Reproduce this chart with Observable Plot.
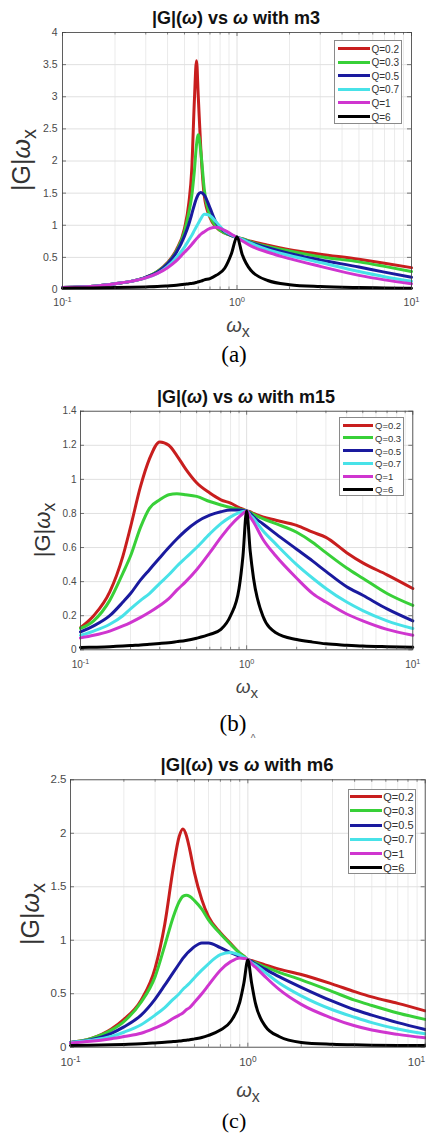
<!DOCTYPE html>
<html><head><meta charset="utf-8">
<script src="https://cdn.jsdelivr.net/npm/d3@7"></script>
<script src="https://cdn.jsdelivr.net/npm/@observablehq/plot@0.6"></script>
<style>
html,body{margin:0;padding:0;background:#fff;}
body{width:426px;height:1136px;position:relative;overflow:hidden;font-family:"Liberation Sans",Arial,sans-serif;}
svg{position:absolute;left:0;overflow:visible;}
</style></head><body>
<script>
// ---------- data ----------
const seriesNames = ["Q=0.2", "Q=0.3", "Q=0.5", "Q=0.7", "Q=1", "Q=6"];
const seriesColors = ["#c81e1e", "#38d038", "#1a1a9e", "#48e2e8", "#cf35cf", "#000000"];
const xMajorTicks = [0.1, 1, 10];
const xMinorTicks = [0.2, 0.3, 0.4, 0.5, 0.6, 0.7, 0.8, 0.9, 2, 3, 4, 5, 6, 7, 8, 9];
const panelTitles = ["m3", "m15", "m6"];
const panelCaptions = ["(a)", "(b)", "(c)"];

// panel (a): m3
const yTicksA = [0, 0.5, 1, 1.5, 2, 2.5, 3, 3.5, 4];
const omegaA = [0.1, 0.15, 0.2, 0.25, 0.3, 0.35, 0.4, 0.45, 0.5, 0.53, 0.55, 0.57, 0.586, 0.6, 0.62, 0.65, 0.7, 0.76, 0.85, 0.93, 1, 1.07, 1.2, 1.5, 2, 3, 5, 7, 10];
const aQ02 = [0.03, 0.05, 0.09, 0.13, 0.19, 0.28, 0.42, 0.62, 0.95, 1.35, 1.85, 2.95, 3.56, 3.0, 2.2, 1.45, 1.12, 0.97, 0.88, 0.84, 0.81, 0.79, 0.75, 0.69, 0.62, 0.55, 0.47, 0.41, 0.34];
const aQ03 = [0.03, 0.05, 0.09, 0.13, 0.19, 0.28, 0.41, 0.6, 0.9, 1.2, 1.45, 1.85, 2.25, 2.41, 2.15, 1.55, 1.15, 0.98, 0.88, 0.84, 0.81, 0.79, 0.74, 0.67, 0.6, 0.51, 0.43, 0.36, 0.28];
const aQ05 = [0.03, 0.05, 0.09, 0.13, 0.19, 0.27, 0.4, 0.58, 0.83, 1.02, 1.17, 1.32, 1.42, 1.48, 1.51, 1.47, 1.27, 1.04, 0.9, 0.84, 0.81, 0.78, 0.73, 0.65, 0.56, 0.46, 0.35, 0.27, 0.19];
const aQ07 = [0.03, 0.05, 0.09, 0.13, 0.18, 0.25, 0.36, 0.5, 0.66, 0.77, 0.84, 0.92, 0.98, 1.03, 1.1, 1.17, 1.15, 1.05, 0.91, 0.85, 0.81, 0.78, 0.72, 0.62, 0.53, 0.42, 0.28, 0.2, 0.13];
const aQ1 = [0.03, 0.05, 0.09, 0.13, 0.18, 0.25, 0.34, 0.45, 0.58, 0.65, 0.7, 0.75, 0.79, 0.82, 0.86, 0.9, 0.95, 0.97, 0.92, 0.86, 0.81, 0.76, 0.68, 0.58, 0.48, 0.36, 0.22, 0.15, 0.09];
const aQ6 = [0.02, 0.025, 0.03, 0.035, 0.04, 0.045, 0.055, 0.065, 0.08, 0.09, 0.095, 0.1, 0.11, 0.12, 0.13, 0.15, 0.17, 0.22, 0.33, 0.56, 0.82, 0.55, 0.3, 0.14, 0.075, 0.045, 0.03, 0.025, 0.02];

// panel (b): m15
const yTicksB = [0, 0.2, 0.4, 0.6, 0.8, 1, 1.2, 1.4];
const omegaB = [0.1, 0.12, 0.15, 0.18, 0.2, 0.23, 0.26, 0.3, 0.34, 0.38, 0.43, 0.5, 0.6, 0.7, 0.8, 0.9, 0.95, 1, 1.05, 1.1, 1.25, 1.5, 2, 2.5, 3, 4, 5, 7, 10];
const bQ02 = [0.13, 0.2, 0.34, 0.55, 0.72, 0.96, 1.12, 1.22, 1.2, 1.14, 1.06, 0.98, 0.92, 0.88, 0.86, 0.835, 0.825, 0.815, 0.81, 0.8, 0.78, 0.76, 0.73, 0.69, 0.66, 0.57, 0.51, 0.44, 0.36];
const bQ03 = [0.125, 0.17, 0.29, 0.45, 0.55, 0.72, 0.83, 0.88, 0.91, 0.915, 0.91, 0.9, 0.87, 0.85, 0.835, 0.825, 0.82, 0.815, 0.805, 0.795, 0.77, 0.74, 0.69, 0.63, 0.57, 0.48, 0.42, 0.33, 0.26];
const bQ05 = [0.105, 0.14, 0.2, 0.28, 0.33, 0.41, 0.47, 0.54, 0.6, 0.65, 0.7, 0.75, 0.79, 0.81, 0.82, 0.82, 0.818, 0.815, 0.8, 0.78, 0.74, 0.68, 0.59, 0.52, 0.46, 0.37, 0.32, 0.24, 0.17];
const bQ07 = [0.085, 0.11, 0.15, 0.2, 0.24, 0.29, 0.33, 0.39, 0.44, 0.49, 0.54, 0.6, 0.68, 0.74, 0.78, 0.805, 0.812, 0.815, 0.79, 0.77, 0.7, 0.62, 0.5, 0.42, 0.36, 0.28, 0.23, 0.17, 0.125];
const bQ1 = [0.07, 0.085, 0.11, 0.14, 0.16, 0.19, 0.22, 0.26, 0.3, 0.35, 0.4, 0.47, 0.57, 0.66, 0.73, 0.78, 0.8, 0.815, 0.78, 0.75, 0.65, 0.55, 0.42, 0.33, 0.28, 0.21, 0.17, 0.12, 0.085];
const bQ6 = [0.013, 0.015, 0.018, 0.022, 0.025, 0.028, 0.032, 0.037, 0.042, 0.048, 0.055, 0.068, 0.09, 0.12, 0.2, 0.36, 0.55, 0.815, 0.58, 0.42, 0.2, 0.1, 0.06, 0.045, 0.035, 0.027, 0.022, 0.018, 0.015];

// panel (c): m6
const yTicksC = [0, 0.5, 1, 1.5, 2, 2.5];
const omegaC = [0.1, 0.13, 0.17, 0.2, 0.25, 0.3, 0.34, 0.38, 0.41, 0.43, 0.45, 0.47, 0.5, 0.55, 0.6, 0.7, 0.8, 0.9, 0.95, 1, 1.05, 1.1, 1.25, 1.5, 2, 3, 4, 5, 7, 10];
const cQ02 = [0.045, 0.08, 0.17, 0.26, 0.44, 0.74, 1.15, 1.68, 1.97, 2.04, 1.98, 1.85, 1.63, 1.38, 1.22, 1.07, 0.97, 0.88, 0.85, 0.82, 0.81, 0.8, 0.77, 0.73, 0.68, 0.59, 0.52, 0.47, 0.41, 0.34];
const cQ03 = [0.045, 0.08, 0.16, 0.24, 0.42, 0.66, 0.95, 1.22, 1.36, 1.41, 1.42, 1.41, 1.37, 1.29, 1.19, 1.06, 0.96, 0.88, 0.85, 0.82, 0.8, 0.79, 0.75, 0.7, 0.63, 0.52, 0.44, 0.39, 0.32, 0.26];
const cQ05 = [0.045, 0.07, 0.13, 0.19, 0.3, 0.45, 0.58, 0.7, 0.78, 0.83, 0.87, 0.9, 0.94, 0.975, 0.975, 0.93, 0.885, 0.85, 0.835, 0.82, 0.8, 0.78, 0.73, 0.66, 0.56, 0.43, 0.35, 0.3, 0.23, 0.165];
const cQ07 = [0.045, 0.065, 0.1, 0.14, 0.21, 0.3, 0.37, 0.45, 0.5, 0.54, 0.57, 0.6, 0.65, 0.72, 0.78, 0.865, 0.885, 0.86, 0.84, 0.82, 0.79, 0.77, 0.7, 0.6, 0.48, 0.35, 0.28, 0.23, 0.17, 0.125];
const cQ1 = [0.04, 0.055, 0.08, 0.1, 0.13, 0.18, 0.22, 0.27, 0.3, 0.32, 0.35, 0.37, 0.42, 0.5, 0.58, 0.72, 0.8, 0.835, 0.83, 0.82, 0.78, 0.75, 0.66, 0.54, 0.4, 0.27, 0.2, 0.16, 0.12, 0.088];
const cQ6 = [0.015, 0.018, 0.022, 0.026, 0.032, 0.04, 0.046, 0.053, 0.058, 0.062, 0.066, 0.07, 0.078, 0.09, 0.11, 0.16, 0.24, 0.42, 0.6, 0.815, 0.6, 0.42, 0.2, 0.1, 0.045, 0.028, 0.022, 0.019, 0.017, 0.015];

// ---------- layout ----------
const panels = [
  {omega: omegaA, series: [aQ02, aQ03, aQ05, aQ07, aQ1, aQ6], yTicks: yTicksA,
   top: 0, height: 320, ml: 62, mr: 15, mt: 32, mb: 31, fs: 10.5, xPad: 9, yPad: 5,
   title: {cx: 236, cy: 18, fs: 18}, ylab: {cx: 21, cy: 160, fs: 25}, xlab: {cx: 238, cy: 325, fs: 20},
   cap: {cx: 234, cy: 355, fs: 23},
   leg: {x: 334, y: 40, w: 68, h: 84, y0: 48.5, gap: 13.6, lx: 338, len: 32, tx: 371.5, fs: 10}},
  {omega: omegaB, series: [bQ02, bQ03, bQ05, bQ07, bQ1, bQ6], yTicks: yTicksB,
   top: 370, height: 320, ml: 80, mr: 13.7, mt: 40.7, mb: 40.7, fs: 10, xPad: 11, yPad: 4,
   title: {cx: 246, cy: 397, fs: 18}, ylab: {cx: 43, cy: 530, fs: 22}, xlab: {cx: 247, cy: 687, fs: 19},
   cap: {cx: 233, cy: 724, fs: 23},
   leg: {x: 339, y: 417, w: 65, h: 79, y0: 425, gap: 12.8, lx: 343, len: 30, tx: 375, fs: 9.5}},
  {omega: omegaC, series: [cQ02, cQ03, cQ05, cQ07, cQ1, cQ6], yTicks: yTicksC,
   top: 750, height: 330, ml: 70, mr: 1.3, mt: 29.3, mb: 33.3, fs: 11.5, xPad: 11, yPad: 4,
   title: {cx: 247, cy: 765, fs: 18.5}, ylab: {cx: 30, cy: 914, fs: 25}, xlab: {cx: 248, cy: 1090, fs: 20},
   cap: {cx: 234, cy: 1121, fs: 22},
   leg: {x: 347.7, y: 789, w: 68.3, h: 85.3, y0: 796.7, gap: 14.2, lx: 350, len: 31.7, tx: 383.3, fs: 11}}
];

function rows(omega, seriesArrays) {
  const out = [];
  seriesArrays.forEach((vals, i) => vals.forEach((v, j) => out.push({w: omega[j], v, s: seriesNames[i]})));
  return out;
}

function addDiv(html, css) {
  const d = document.createElement("div");
  d.innerHTML = html;
  d.style.cssText = "position:absolute;white-space:nowrap;line-height:1;" + css;
  document.body.appendChild(d);
  return d;
}

const sub = () => `<span style="font-size:0.8em;position:relative;top:0.3em;">x</span>`;

panels.forEach((p, k) => {
  const plotH = p.height - p.mt - p.mb;
  const plotW = 426 - p.ml - p.mr;
  const axisColor = "#404040";
  const svg = Plot.plot({
    width: 426, height: p.height,
    marginLeft: p.ml, marginRight: p.mr, marginTop: p.mt, marginBottom: p.mb,
    style: {fontFamily: '"Liberation Sans", Arial, sans-serif', fontSize: p.fs + "px", color: "#4a4a4a", background: "transparent", overflow: "visible"},
    x: {type: "log", domain: [0.1, 10]},
    y: {domain: [p.yTicks[0], p.yTicks[p.yTicks.length - 1]]},
    color: {domain: seriesNames, range: seriesColors},
    marks: [
      Plot.gridX(xMinorTicks, {stroke: "#ebebeb", strokeOpacity: 1}),
      Plot.gridX(xMajorTicks, {stroke: "#e0e0e0", strokeOpacity: 1}),
      Plot.gridY(p.yTicks, {stroke: "#e0e0e0", strokeOpacity: 1}),
      Plot.line(rows(p.omega, p.series), {x: "w", y: "v", stroke: "s", z: "s", curve: "monotone-x", strokeWidth: 3, strokeLinejoin: "round"}),
      Plot.frame({stroke: axisColor, strokeWidth: 0.8}),
      Plot.tickX(xMajorTicks, {x: d => d, insetTop: plotH - 4, stroke: axisColor, strokeWidth: 0.7}),
      Plot.tickX(xMajorTicks, {x: d => d, insetBottom: plotH - 4, stroke: axisColor, strokeWidth: 0.7}),
      Plot.tickX(xMinorTicks, {x: d => d, insetTop: plotH - 2.5, stroke: axisColor, strokeWidth: 0.6}),
      Plot.tickX(xMinorTicks, {x: d => d, insetBottom: plotH - 2.5, stroke: axisColor, strokeWidth: 0.6}),
      Plot.tickY(p.yTicks, {y: d => d, insetRight: plotW - 4, stroke: axisColor, strokeWidth: 0.7}),
      Plot.tickY(p.yTicks, {y: d => d, insetLeft: plotW - 4, stroke: axisColor, strokeWidth: 0.7}),
      Plot.axisX(xMajorTicks, {tickSize: 0, tickPadding: p.xPad, label: null, fill: "#4a4a4a",
        tickFormat: d => "10^" + Math.round(Math.log10(d))}),
      Plot.axisY(p.yTicks, {tickSize: 0, tickPadding: p.yPad, label: null, fill: "#4a4a4a",
        tickFormat: d => String(d)})
    ]
  });
  svg.style.top = p.top + "px";
  document.body.appendChild(svg);

  // superscript exponents on the log axis; keep the last label inside the page
  const labels = d3.select(svg).selectAll('g[aria-label="x-axis tick label"] text');
  const n = labels.size();
  labels.each(function (_, i) {
    const parts = this.textContent.split("^");
    if (parts.length === 2) {
      const t = d3.select(this);
      t.text(parts[0]);
      t.append("tspan").attr("dy", "-0.5em").attr("font-size", "0.72em").text(parts[1]);
      if (i === n - 1 && p.mr < 8) t.attr("text-anchor", "end");
    }
  });

  // title
  addDiv(`|G|(<i>ω</i>) vs <i>ω</i> with ${panelTitles[k]}`,
    `left:${p.title.cx}px;top:${p.title.cy}px;transform:translate(-50%,-50%);font:bold ${p.title.fs}px "Liberation Sans",Arial,sans-serif;color:#111;`);
  // y label
  addDiv(`|G|<i>ω</i>${sub()}`,
    `left:${p.ylab.cx}px;top:${p.ylab.cy}px;transform:translate(-50%,-50%) rotate(-90deg);font:${p.ylab.fs}px "Liberation Sans",Arial,sans-serif;color:#333;`);
  // x label
  addDiv(`<i>ω</i>${sub()}`,
    `left:${p.xlab.cx}px;top:${p.xlab.cy}px;transform:translate(-50%,-50%);font:${p.xlab.fs}px "Liberation Sans",Arial,sans-serif;color:#444;`);
  // caption
  addDiv(panelCaptions[k],
    `left:${p.cap.cx}px;top:${p.cap.cy}px;transform:translate(-50%,-50%);font:${p.cap.fs}px "Liberation Serif","Times New Roman",serif;color:#000;`);

  // legend
  const L = p.leg;
  addDiv("", `left:${Math.round(L.x)}px;top:${Math.round(L.y)}px;width:${Math.round(L.w)}px;height:${Math.round(L.h)}px;box-sizing:border-box;border:1px solid #8a8a8a;background:#fff;`);
  seriesNames.forEach((name, i) => {
    const yy = L.y0 + i * L.gap;
    addDiv("", `left:${Math.round(L.lx)}px;top:${Math.round(yy - 1.5)}px;width:${Math.round(L.len)}px;height:3px;background:${seriesColors[i]};`);
    addDiv(name, `left:${L.tx}px;top:${yy}px;transform:translateY(-50%);font:${L.fs}px "Liberation Sans",Arial,sans-serif;color:#333;`);
  });
});

// small mark under (b) as in the reference
addDiv("^", `left:253px;top:738px;transform:translate(-50%,-50%);font:10px "Liberation Sans",Arial,sans-serif;color:#666;`);
</script>
</body></html>
